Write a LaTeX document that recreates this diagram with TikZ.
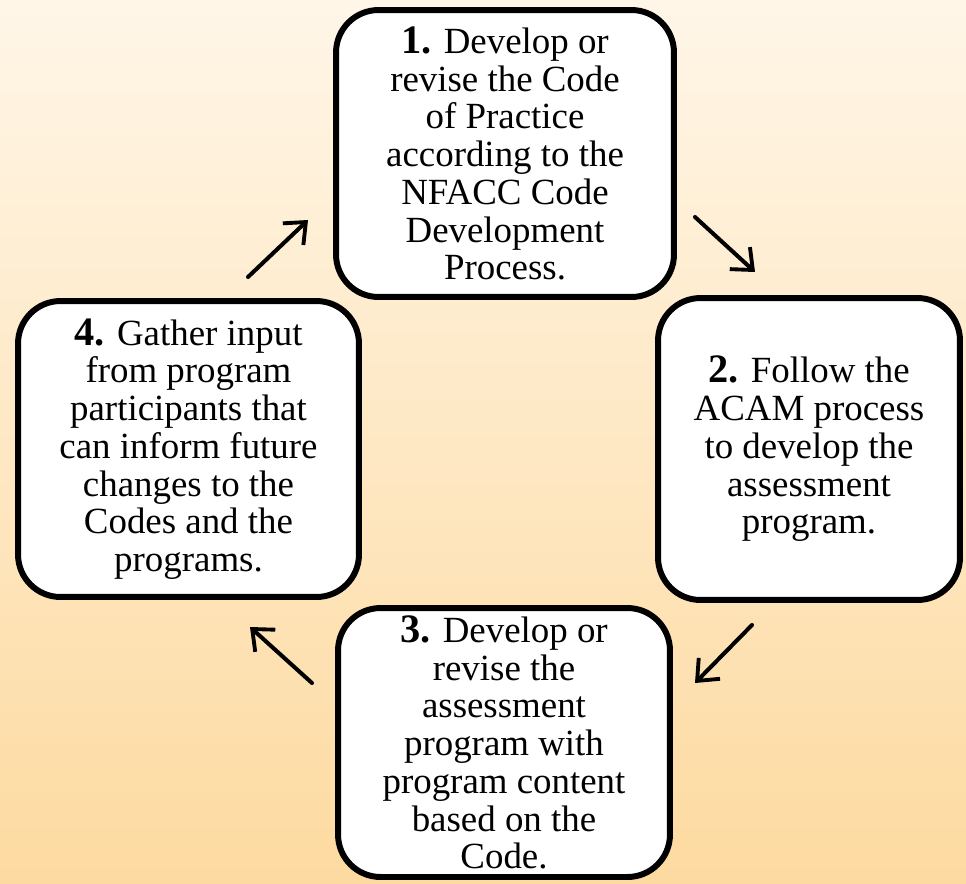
\documentclass[tikz,border=0pt]{standalone}
\usepackage{fontspec}
\setmainfont{Liberation Serif}
\definecolor{cycleTop}{RGB}{255,246,232}
\definecolor{cycleBottom}{RGB}{253,218,160}
\usepackage{tikz}
\usetikzlibrary{arrows.meta,positioning,calc}

\newcommand{\stepnum}[1]{{\fontsize{23}{21.5}\selectfont\textbf{#1}}}

\begin{document}
\begin{tikzpicture}[x=0.02cm, y=-0.02cm,
    stepbox/.style={rectangle, rounded corners=0.85cm, draw=black, fill=white,
               line width=3.4pt, align=center, inner sep=0pt,
               font=\fontsize{21}{21.5}\selectfont},
    cyc/.style={-{Straight Barb[length=10pt, width=17pt, line width=2.2pt]},
               line width=2.3pt, black, line cap=round}
  ]
  % background
  \shade[top color=cycleTop, bottom color=cycleBottom] (0,0) rectangle (966,883);
  \useasboundingbox (0,0) rectangle (966,883);

  \node[stepbox, minimum width=6.76cm, minimum height=5.74cm] (s1) at (505,153.5)
    {\stepnum{1.} Develop or\\ revise the Code\\ of Practice\\ according to the\\ NFACC Code\\ Development\\ Process.};
  \node[stepbox, minimum width=6.04cm, minimum height=6.04cm] (s2) at (809,449)
    {\stepnum{2.} Follow the\\ ACAM process\\ to develop the\\ assessment\\ program.};
  \node[stepbox, minimum width=6.64cm, minimum height=5.38cm] (s3) at (504,742.5)
    {\stepnum{3.} Develop or\\ revise the\\ assessment\\ program with\\ program content\\ based on the\\ Code.};
  \node[stepbox, minimum width=6.82cm, minimum height=5.92cm] (s4) at (188.5,449)
    {\stepnum{4.} Gather input\\ from program\\ participants that\\ can inform future\\ changes to the\\ Codes and the\\ programs.};

  % arrow ends
  \coordinate (a12s) at (695,217);  \coordinate (a12e) at (755,272);
  \coordinate (a23s) at (752,625);  \coordinate (a23e) at (695,683);
  \coordinate (a34s) at (312,683);  \coordinate (a34e) at (250,627);
  \coordinate (a41s) at (248,277);  \coordinate (a41e) at (308,220);

  \draw[cyc] (a12s) -- (a12e);
  \draw[cyc] (a23s) -- (a23e);
  \draw[cyc] (a34s) -- (a34e);
  \draw[cyc] (a41s) -- (a41e);
\end{tikzpicture}
\end{document}
